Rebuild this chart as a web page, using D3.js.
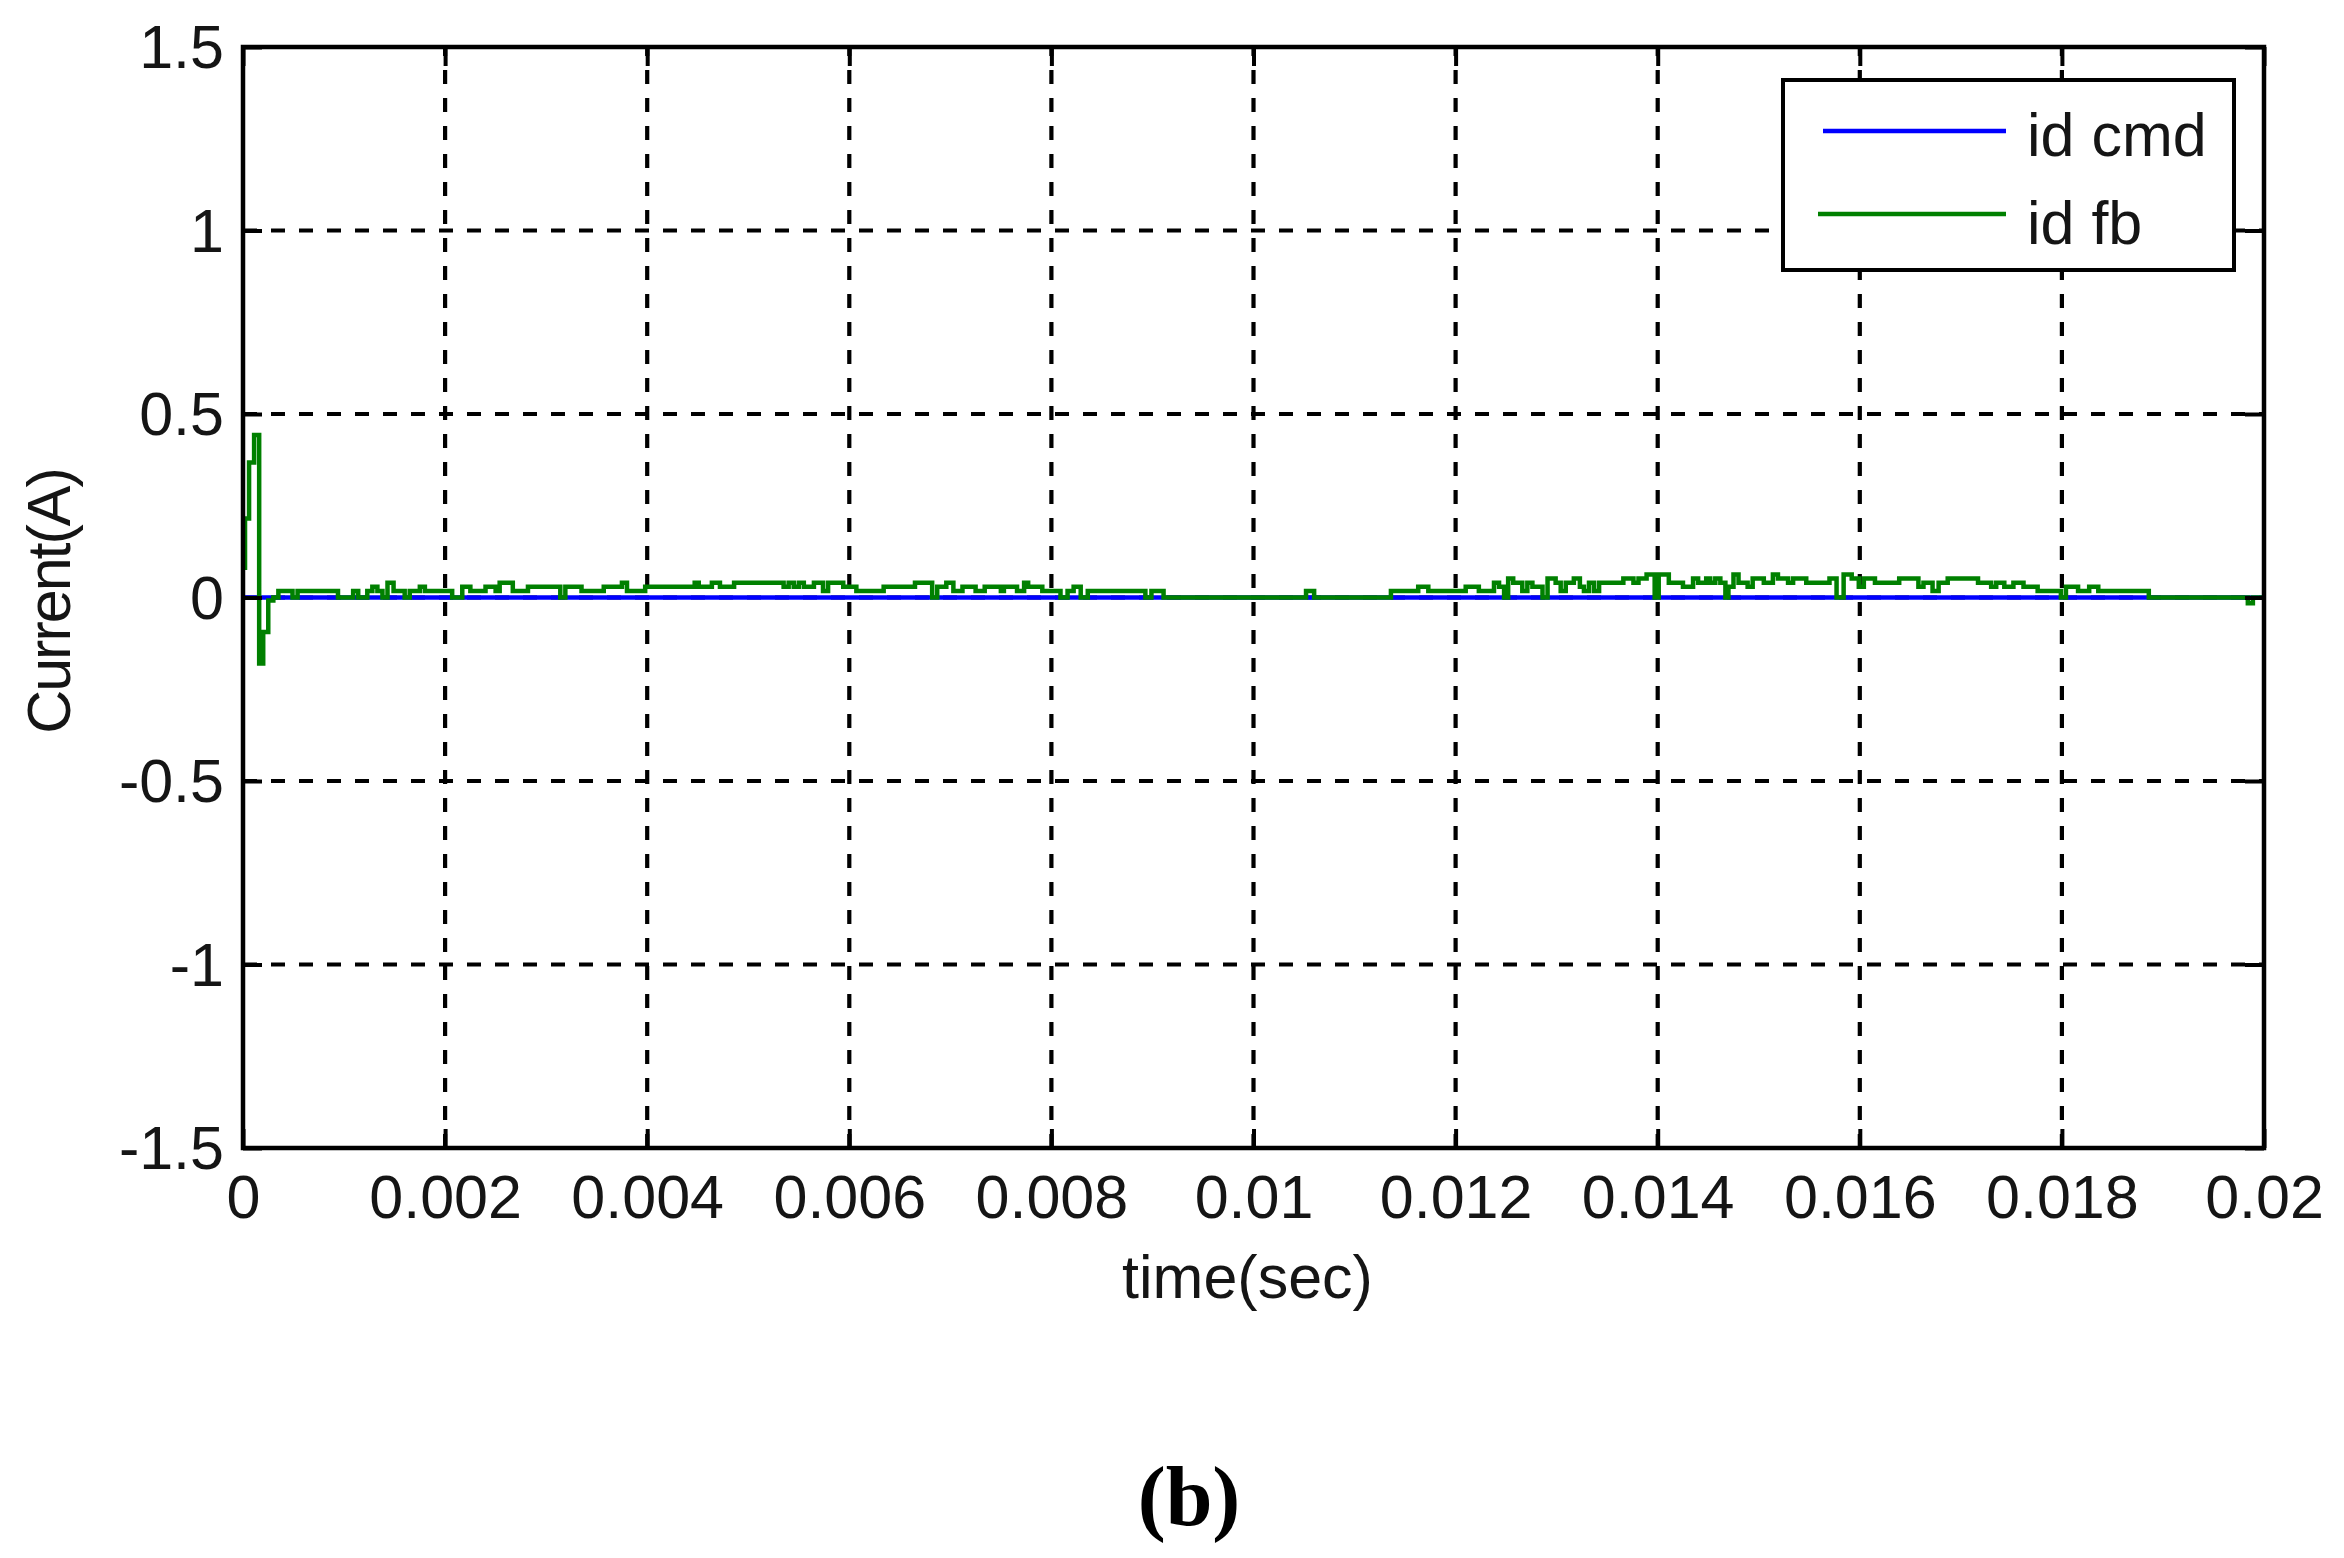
<!DOCTYPE html>
<html>
<head>
<meta charset="utf-8">
<script src="https://cdn.jsdelivr.net/npm/d3@7/dist/d3.min.js"></script>
<style>
  html, body { margin: 0; padding: 0; background: #ffffff; }
  svg { display: block; }
  text { font-family: "Liberation Sans", Arial, sans-serif; }
</style>
</head>
<body>
<svg id="chart" width="2344" height="1558"></svg>
<script>
// ---------------- data ----------------
const xTicks = [0, 0.002, 0.004, 0.006, 0.008, 0.01, 0.012, 0.014, 0.016, 0.018, 0.02];
const xTickLabels = ["0", "0.002", "0.004", "0.006", "0.008", "0.01", "0.012", "0.014", "0.016", "0.018", "0.02"];
const yTicks = [-1.5, -1, -0.5, 0, 0.5, 1, 1.5];
const yTickLabels = ["-1.5", "-1", "-0.5", "0", "0.5", "1", "1.5"];

const seriesNames = ["id cmd", "id fb"];
const seriesColors = ["#0000ff", "#008000"];

// id cmd (A) vs time (ms)
const cmdTimeMs = [0, 20];
const cmdValue = [0, 0];

// id fb (A) vs time (ms), step-after samples
const fbTimeMs = [
  0, 0.02, 0.06, 0.11, 0.16, 0.20, 0.25, 0.30, 0.35, 0.49,
  0.54, 0.94, 1.09, 1.14, 1.23, 1.28, 1.33, 1.38, 1.43, 1.49,
  1.60, 1.65, 1.75, 1.80, 2.07, 2.17, 2.25, 2.40, 2.50, 2.54,
  2.67, 2.82, 3.14, 3.19, 3.35, 3.57, 3.75, 3.80, 3.98, 4.47,
  4.51, 4.64, 4.72, 4.86, 5.35, 5.40, 5.45, 5.50, 5.55, 5.65,
  5.74, 5.79, 5.94, 6.07, 6.34, 6.65, 6.82, 6.87, 6.96, 7.03,
  7.12, 7.25, 7.34, 7.50, 7.53, 7.66, 7.73, 7.77, 7.91, 8.09,
  8.16, 8.22, 8.29, 8.36, 8.93, 8.99, 9.11, 10.52, 10.60, 11.36,
  11.63, 11.73, 12.10, 12.23, 12.38, 12.43, 12.48, 12.52, 12.57, 12.66,
  12.71, 12.76, 12.86, 12.91, 12.99, 13.04, 13.09, 13.17, 13.23, 13.27,
  13.32, 13.37, 13.42, 13.66, 13.76, 13.81, 13.89, 13.97, 14.01, 14.11,
  14.25, 14.35, 14.40, 14.48, 14.52, 14.57, 14.62, 14.67, 14.70, 14.75,
  14.80, 14.89, 14.94, 15.05, 15.14, 15.19, 15.29, 15.34, 15.47, 15.70,
  15.77, 15.84, 15.92, 15.99, 16.04, 16.15, 16.39, 16.58, 16.63, 16.72,
  16.78, 16.87, 17.17, 17.30, 17.35, 17.43, 17.52, 17.62, 17.76, 17.99,
  18.04, 18.16, 18.27, 18.36, 18.86, 19.84, 19.89, 20
];
const fbValue = [
  0.081, 0.215, 0.368, 0.443, -0.18, -0.094, -0.008, 0, 0.018, 0,
  0.018, 0, 0.018, 0, 0.018, 0.029, 0.018, 0, 0.040, 0.018,
  0, 0.018, 0.029, 0.018, 0, 0.029, 0.018, 0.029, 0.018, 0.040,
  0.018, 0.029, 0, 0.029, 0.018, 0.029, 0.040, 0.018, 0.029, 0.040,
  0.029, 0.040, 0.029, 0.040, 0.029, 0.040, 0.029, 0.040, 0.029, 0.040,
  0.018, 0.040, 0.029, 0.018, 0.029, 0.040, 0, 0.029, 0.040, 0.018,
  0.029, 0.018, 0.029, 0.018, 0.029, 0.018, 0.040, 0.029, 0.018, 0,
  0.018, 0.029, 0, 0.018, 0, 0.018, 0, 0.018, 0, 0.018,
  0.029, 0.018, 0.029, 0.018, 0.040, 0.029, 0, 0.052, 0.040, 0.018,
  0.040, 0.029, 0, 0.052, 0.040, 0.018, 0.040, 0.052, 0.029, 0.018,
  0.040, 0.018, 0.040, 0.052, 0.040, 0.052, 0.063, 0, 0.063, 0.040,
  0.029, 0.052, 0.040, 0.052, 0.040, 0.052, 0.040, 0, 0.029, 0.063,
  0.040, 0.029, 0.052, 0.040, 0.063, 0.052, 0.040, 0.052, 0.040, 0.052,
  0, 0.063, 0.052, 0.029, 0.052, 0.040, 0.052, 0.029, 0.040, 0.018,
  0.040, 0.052, 0.040, 0.029, 0.040, 0.029, 0.040, 0.029, 0.018, 0,
  0.029, 0.018, 0.029, 0.018, 0, -0.016, 0, 0
];

const xLabel = "time(sec)";
const yLabel = "Current(A)";
const caption = "(b)";

// ---------------- layout ----------------
const W = 2344, H = 1558;
const plot = { left: 243, right: 2264, top: 47, bottom: 1148 };
const fontSize = 61;

const svg = d3.select("#chart");
svg.append("rect").attr("width", W).attr("height", H).attr("fill", "#ffffff");

const x = d3.scaleLinear().domain([0, 0.02]).range([plot.left, plot.right]);
const y = d3.scaleLinear().domain([-1.5, 1.5]).range([plot.bottom, plot.top]);

// grid lines
const grid = svg.append("g");
grid.selectAll("line.gx")
  .data(xTicks.slice(1, -1))
  .join("line")
  .attr("x1", d => x(d)).attr("x2", d => x(d))
  .attr("y1", plot.bottom).attr("y2", plot.top)
  .attr("stroke", "#000").attr("stroke-width", 4.2)
  .attr("stroke-dasharray", "14,14");
grid.selectAll("line.gy")
  .data(yTicks.slice(1, -1))
  .join("line")
  .attr("x1", plot.left).attr("x2", plot.right)
  .attr("y1", d => y(d)).attr("y2", d => y(d))
  .attr("stroke", "#000").attr("stroke-width", 4.2)
  .attr("stroke-dasharray", "14,14");

// series
const clip = svg.append("clipPath").attr("id", "clip")
  .append("rect").attr("x", plot.left).attr("y", plot.top)
  .attr("width", plot.right - plot.left).attr("height", plot.bottom - plot.top);

const cmdData = cmdTimeMs.map((t, i) => ({ t: t / 1000, v: cmdValue[i] }));
const fbData = fbTimeMs.map((t, i) => ({ t: t / 1000, v: fbValue[i] }));

const lineStep = d3.line().x(d => x(d.t)).y(d => y(d.v)).curve(d3.curveStepAfter);
const lineLin = d3.line().x(d => x(d.t)).y(d => y(d.v));

const series = svg.append("g").attr("clip-path", "url(#clip)");
series.append("path").datum(cmdData)
  .attr("d", lineLin).attr("fill", "none")
  .attr("stroke", seriesColors[0]).attr("stroke-width", 4.5);
series.append("path").datum(fbData)
  .attr("d", lineStep).attr("fill", "none")
  .attr("stroke", seriesColors[1]).attr("stroke-width", 4.5)
  .attr("stroke-linejoin", "miter").attr("stroke-linecap", "butt");

// axes (inward ticks on all sides)
const tickLen = 19;
const xi = {};
xTicks.forEach((t, i) => xi[t] = xTickLabels[i]);
const yi = {};
yTicks.forEach((t, i) => yi[t] = yTickLabels[i]);

function styleAxis(g) {
  g.select(".domain").remove();
  g.selectAll(".tick line").attr("stroke", "#000").attr("stroke-width", 4);
  g.selectAll(".tick text")
    .attr("fill", "#151515")
    .style("font-family", '"Liberation Sans", Arial, sans-serif')
    .style("font-size", fontSize + "px");
}

svg.append("g")
  .attr("transform", `translate(0,${plot.bottom})`)
  .call(d3.axisBottom(x).tickValues(xTicks).tickFormat(d => xi[d])
    .tickSize(-tickLen).tickSizeOuter(0).tickPadding(27))
  .call(styleAxis);

svg.append("g")
  .attr("transform", `translate(0,${plot.top})`)
  .call(d3.axisTop(x).tickValues(xTicks).tickFormat("")
    .tickSize(-tickLen).tickSizeOuter(0))
  .call(styleAxis);

svg.append("g")
  .attr("transform", `translate(${plot.left},0)`)
  .call(d3.axisLeft(y).tickValues(yTicks).tickFormat(d => yi[d])
    .tickSize(-tickLen).tickSizeOuter(0).tickPadding(19))
  .call(styleAxis)
  .call(g => g.selectAll(".tick text").attr("dy", "0.34em"));

svg.append("g")
  .attr("transform", `translate(${plot.right},0)`)
  .call(d3.axisRight(y).tickValues(yTicks).tickFormat("")
    .tickSize(-tickLen).tickSizeOuter(0))
  .call(styleAxis);

// box
svg.append("rect")
  .attr("x", plot.left).attr("y", plot.top)
  .attr("width", plot.right - plot.left).attr("height", plot.bottom - plot.top)
  .attr("fill", "none").attr("stroke", "#000").attr("stroke-width", 4.5);

// axis labels
svg.append("text")
  .attr("x", (plot.left + plot.right) / 2 - 6)
  .attr("y", 1298)
  .attr("text-anchor", "middle")
  .attr("fill", "#151515")
  .style("font-size", fontSize + "px")
  .text(xLabel);

svg.append("text")
  .attr("transform", `translate(70,${(plot.top + plot.bottom) / 2 + 4}) rotate(-90)`)
  .attr("text-anchor", "middle")
  .attr("fill", "#151515")
  .style("font-size", fontSize + "px")
  .style("letter-spacing", "-2px")
  .text(yLabel);

// legend
const lg = svg.append("g");
lg.append("rect")
  .attr("x", 1783).attr("y", 80).attr("width", 451).attr("height", 190)
  .attr("fill", "#fff").attr("stroke", "#000").attr("stroke-width", 4);
const legendRows = [131, 214];
seriesNames.forEach((name, i) => {
  lg.append("line")
    .attr("x1", i === 0 ? 1823 : 1818).attr("x2", 2006)
    .attr("y1", legendRows[i]).attr("y2", legendRows[i])
    .attr("stroke", seriesColors[i]).attr("stroke-width", 4.5);
  lg.append("text")
    .attr("x", 2027).attr("y", legendRows[i] + 25 + (i === 1 ? 5 : 0))
    .attr("fill", "#151515")
    .style("font-size", fontSize + "px")
    .text(name);
});

// caption
svg.append("text")
  .attr("x", 1189).attr("y", 1525)
  .attr("text-anchor", "middle")
  .attr("fill", "#000")
  .style("font-family", '"Liberation Serif", "Times New Roman", serif')
  .style("font-weight", "bold")
  .style("font-size", "84px")
  .text(caption);
</script>
</body>
</html>
